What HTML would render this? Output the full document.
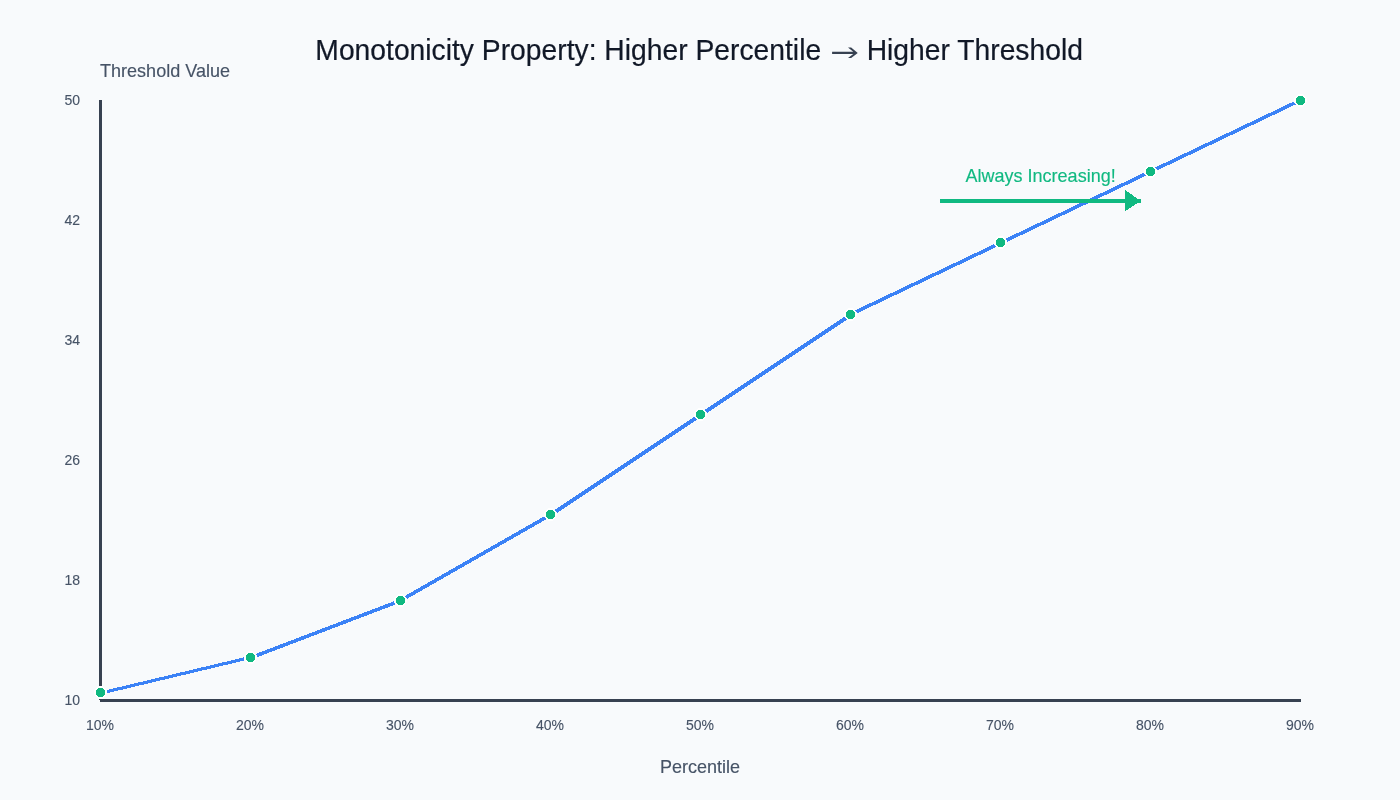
<!DOCTYPE html>
<html lang="en">
<head>
<meta charset="utf-8">
<title>Monotonicity Property</title>
<style>
html,body{margin:0;padding:0;background:#f8fafc;}
body{width:1400px;height:800px;overflow:hidden;}
svg{display:block;font-family:"Liberation Sans",Arial,sans-serif;}
text{paint-order:stroke;stroke-linejoin:round;}
</style>
</head>
<body>
<svg width="1400" height="800" viewBox="0 0 1400 800" shape-rendering="crispEdges">
  <rect x="0" y="0" width="1400" height="800" fill="#f8fafc"/>
  <text x="315.35" y="60" font-size="29" fill="#111827" stroke="#111827" stroke-width="0.2" textLength="767.6" lengthAdjust="spacingAndGlyphs">Monotonicity Property: Higher Percentile <tspan font-family="IPAGothic,'Noto Sans CJK JP',sans-serif" font-size="30" dx="1.1" dy="4.4" fill="#374151" stroke="none">→</tspan><tspan dx="-0.5" dy="-4.4"> Higher Threshold</tspan></text>

  <line x1="100" y1="100" x2="100" y2="700" stroke="#374151" stroke-width="3"/>
  <line x1="100" y1="700" x2="1301" y2="700" stroke="#374151" stroke-width="3"/>

  <text x="100" y="77" font-size="18.5" fill="#465366" stroke="#465366" stroke-width="0.15" textLength="130" lengthAdjust="spacingAndGlyphs">Threshold Value</text>
  <text x="700" y="773" text-anchor="middle" font-size="18.5" fill="#465366" stroke="#465366" stroke-width="0.15" textLength="80" lengthAdjust="spacingAndGlyphs">Percentile</text>

  <g font-size="14" fill="#465366" stroke="#465366" stroke-width="0.12" text-anchor="end">
    <text x="80" y="105">50</text>
    <text x="80" y="225">42</text>
    <text x="80" y="345">34</text>
    <text x="80" y="465">26</text>
    <text x="80" y="585">18</text>
    <text x="80" y="705">10</text>
  </g>
  <g font-size="14" fill="#465366" stroke="#465366" stroke-width="0.12" text-anchor="middle">
    <text x="100" y="730">10%</text>
    <text x="250" y="730">20%</text>
    <text x="400" y="730">30%</text>
    <text x="550" y="730">40%</text>
    <text x="700" y="730">50%</text>
    <text x="850" y="730">60%</text>
    <text x="1000" y="730">70%</text>
    <text x="1150" y="730">80%</text>
    <text x="1300" y="730">90%</text>
  </g>

  <g stroke="#3b82f6" fill="none">
    <line x1="100.5" y1="693.16" x2="250.5" y2="657.44" stroke-width="3.15"/>
    <line x1="250.5" y1="657.84" x2="400.5" y2="600.70" stroke-width="3.57"/>
    <line x1="400.5" y1="600.50" x2="550.5" y2="514.79" stroke-width="3.70"/>
    <line x1="550.5" y1="514.99" x2="700.5" y2="414.99" stroke-width="4.00"/>
    <line x1="700.5" y1="414.99" x2="850.5" y2="314.99" stroke-width="4.00"/>
    <line x1="850.5" y1="314.49" x2="1000.5" y2="243.06" stroke-width="3.54"/>
    <line x1="1000.5" y1="243.06" x2="1150.5" y2="171.63" stroke-width="3.54"/>
    <line x1="1150.5" y1="171.63" x2="1300.5" y2="100.20" stroke-width="3.54"/>
  </g>

  <g fill="#10b981" stroke="#ffffff" stroke-width="1.7">
    <circle cx="100.5" cy="692.5" r="5.55"/>
    <circle cx="250.5" cy="657.5" r="5.55"/>
    <circle cx="400.5" cy="600.5" r="5.55"/>
    <circle cx="550.5" cy="514.5" r="5.55"/>
    <circle cx="700.5" cy="414.5" r="5.55"/>
    <circle cx="850.5" cy="314.5" r="5.55"/>
    <circle cx="1000.5" cy="242.5" r="5.55"/>
    <circle cx="1150.5" cy="171.5" r="5.55"/>
    <circle cx="1300.5" cy="100.5" r="5.55"/>
  </g>

  <text x="965.5" y="182" font-size="18.5" fill="#10b981" stroke="#10b981" stroke-width="0.15" textLength="150.2" lengthAdjust="spacingAndGlyphs">Always Increasing!</text>
  <rect x="940" y="199" width="201" height="4" fill="#10b981"/>
  <polygon points="1125,189.9 1140.8,201 1125,211.4" fill="#10b981"/>
</svg>
</body>
</html>
